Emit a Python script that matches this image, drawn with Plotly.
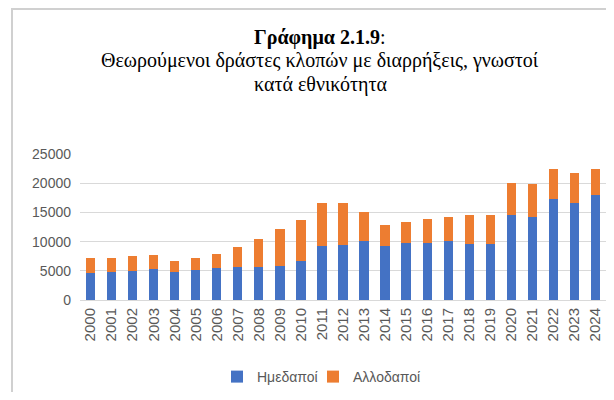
import plotly.graph_objects as go

years = [str(y) for y in range(2000, 2025)]
natives = [4600, 4850, 5000, 5300, 4850, 5200, 5550, 5650, 5650, 5900, 6650,
           9250, 9400, 10050, 9250, 9800, 9800, 10050, 9550, 9550,
           14500, 14200, 17250, 16600, 18050]
totals = [7150, 7150, 7600, 7700, 6750, 7150, 7900, 9050, 10450, 12100, 13700,
          16600, 16600, 15000, 12850, 13350, 13800, 14150, 14500, 14500,
          20100, 19900, 22500, 21700, 22500]
foreigners = [t - n for t, n in zip(totals, natives)]
y_ticks = [0, 5000, 10000, 15000, 20000, 25000]
y_tick_labels = ["0", "5000", "10000", "15000", "20000", "25000"]
title_lines = ["<b>Γράφημα 2.1.9</b>:",
               "Θεωρούμενοι δράστες κλοπών με διαρρήξεις, γνωστοί",
               "κατά εθνικότητα"]

# the page body adds an 8px margin, so the figure is laid out in shifted coordinates
OFF = 8
W, H = 614 - 2 * OFF, 400 - 2 * OFF
L, R, T, B = 80 - OFF, 0, 154 - OFF, H - (300 - OFF)
pw, ph = W - L - R, H - T - B

def px(x):
    return (x - OFF - L) / pw

def py(y):
    return (H - B - (y - OFF)) / ph

fig = go.Figure()
fig.add_trace(go.Bar(x=years, y=natives, name="Ημεδαποί", marker_color="#4472C4",
                     marker_line_width=0, legend="legend"))
fig.add_trace(go.Bar(x=years, y=foreigners, name="Αλλοδαποί", marker_color="#ED7D31",
                     marker_line_width=0, legend="legend2"))

title_y = [38, 61, 84]
annotations = [
    dict(text=t, xref="paper", yref="paper", x=px(320), y=py(yy), xanchor="center",
         yanchor="middle", showarrow=False, align="center",
         font=dict(family="Liberation Serif, Times New Roman, serif", size=20, color="black"))
    for t, yy in zip(title_lines, title_y)
]
# outer chart-frame border (only its left and top edges fall inside the picture)
annotations.append(dict(text=" ", xref="paper", yref="paper", x=px(11), y=py(8),
                        xanchor="left", yanchor="top", showarrow=False,
                        width=700, height=500, borderpad=0,
                        bordercolor="#D0D0D0", borderwidth=2, bgcolor="rgba(0,0,0,0)"))

legend_common = dict(orientation="h", yanchor="middle", xanchor="left",
                     font=dict(size=14, color="#595959"), itemwidth=30,
                     bgcolor="rgba(0,0,0,0)")

fig.update_layout(
    width=W, height=H,
    barmode="stack", bargap=0.56,
    margin=dict(l=L, r=R, t=T, b=B, autoexpand=False),
    paper_bgcolor="white", plot_bgcolor="white",
    font=dict(family="Liberation Sans, Arial, sans-serif", size=14, color="#595959"),
    showlegend=True,
    legend=dict(x=px(217), y=py(377), **legend_common),
    legend2=dict(x=px(313), y=py(377), **legend_common),
    xaxis=dict(tickangle=-90, showgrid=False, showline=False, ticks="",
               tickfont=dict(size=15, color="#595959"), ticklabelstandoff=4),
    yaxis=dict(range=[0, 25000], tickvals=y_ticks, ticktext=y_tick_labels,
               showgrid=True, gridcolor="#D9D9D9",
               gridwidth=1, zeroline=True, zerolinecolor="#D9D9D9", zerolinewidth=1,
               showline=False, ticks="", tickfont=dict(size=14, color="#595959"),
               ticklabelstandoff=8),
    annotations=annotations,
)

fig.write_html("out.html")
